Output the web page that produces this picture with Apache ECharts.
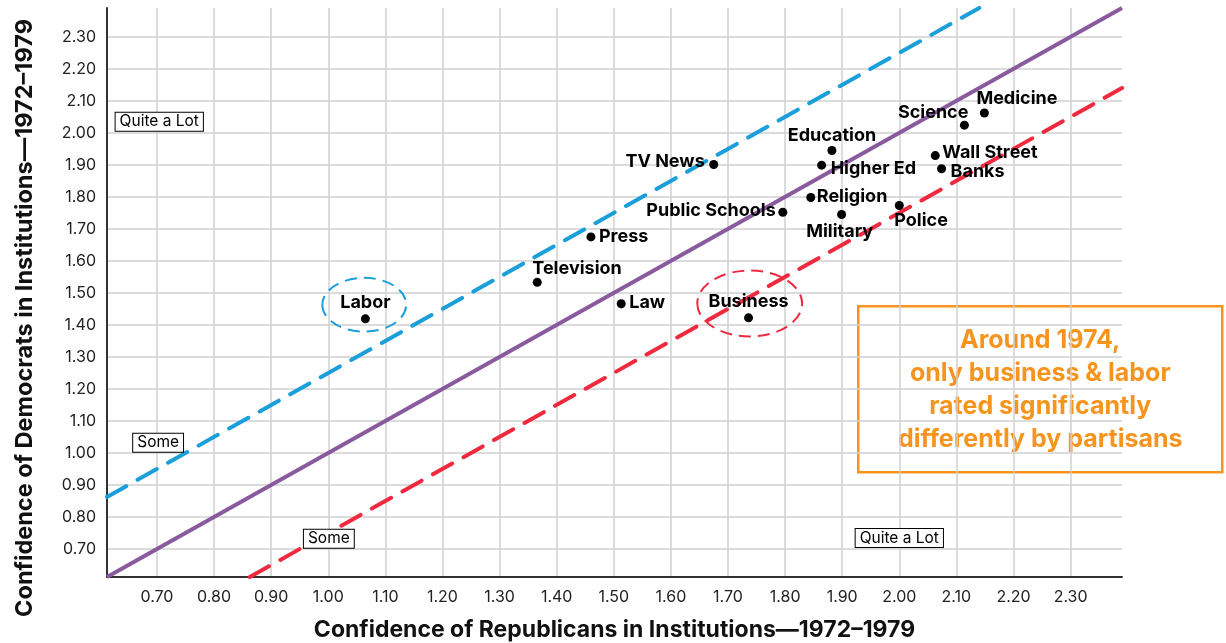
<!DOCTYPE html>
<html><head><meta charset="utf-8">
<script src="https://cdn.jsdelivr.net/npm/echarts@6/dist/echarts.min.js"></script>
<style>html,body{margin:0;padding:0;background:#fff}#c{width:1226px;height:643px}</style>
</head><body><div id="c"></div>
<script>
// ---- data ----
const institutions = ['Labor','Television','Press','Law','TV News','Public Schools','Business','Religion','Military','Education','Higher Ed','Police','Science','Medicine','Wall Street','Banks'];
const republicans = [1.065,1.366,1.460,1.513,1.675,1.796,1.736,1.845,1.899,1.882,1.864,2.000,2.114,2.149,2.063,2.074];
const democrats   = [1.419,1.533,1.675,1.466,1.901,1.752,1.422,1.798,1.745,1.945,1.899,1.773,2.024,2.062,1.929,1.888];
const tickValues = [0.70,0.80,0.90,1.00,1.10,1.20,1.30,1.40,1.50,1.60,1.70,1.80,1.90,2.00,2.10,2.20,2.30];
const equalLine = [[0.6125,0.6125],[2.39,2.39]];
const demHigherLine = [[0.6125,0.8625],[2.14,2.39]];
const repHigherLine = [[0.8625,0.6125],[2.39,2.14]];
const zoneLabels = ['Quite a Lot','Some','Some','Quite a Lot'];
const zoneX = [0.704,0.702,1.001,2.000];
const zoneY = [2.035,1.032,0.732,0.734];
const highlightNames = ['Labor','Business'];
const highlightCx = [1.063,1.738];
const highlightCy = [1.463,1.467];
const highlightRx = [0.0734,0.0918];
const highlightRy = [0.084,0.103];
const xTitle = 'Confidence of Republicans in Institutions\u20141972\u20131979';
const yTitle = 'Confidence of Democrats in Institutions\u20141972\u20131979';
const noteLines = ['Around 1974,','only business & labor','rated significantly','differently by partisans'];

// ---- label placement (style) ----
const labelPlace = {
  'Labor':[0,-16,'center'],'Television':[-5,-14,'left'],'Press':[8,0,'left'],'Law':[8,-1,'left'],
  'TV News':[-9,-3,'right'],'Public Schools':[-7,-2,'right'],'Business':[0,-16,'center'],
  'Religion':[6,-1,'left'],'Military':[-2,17,'center'],'Education':[0,-15,'center'],
  'Higher Ed':[9,3,'left'],'Police':[-5,15,'left'],'Science':[4,-13,'right'],
  'Medicine':[-8,-14,'left'],'Wall Street':[7,-3,'left'],'Banks':[9,3,'left']
};
const SYM = 9;
const pts = institutions.map((n,i)=>{
  const p = labelPlace[n];
  return {name:n, value:[republicans[i],democrats[i]],
    label:{position:[SYM/2+p[0], SYM/2+p[1]], align:p[2], verticalAlign:'middle'}};
});
const FONT = 'Inter';
const chart = echarts.init(document.getElementById('c'));
const axisCommon = {
  type:'value', min:0.6125, max:2.39,
  axisLine:{show:true, onZero:false, lineStyle:{color:'#333', width:2}},
  axisTick:{show:false, customValues:tickValues},
  splitLine:{show:true, lineStyle:{color:'#d0d0d0', width:1.5}},
  axisLabel:{customValues:tickValues, formatter:v=>v.toFixed(2), color:'#222', fontFamily:FONT, fontSize:16},
  nameLocation:'middle',
  nameTextStyle:{fontFamily:FONT, fontWeight:'bold', fontSize:23, color:'#111'}
};
chart.setOption({
  animation:false,
  grid:{left:107, right:104, top:8, bottom:66, containLabel:false, outerBoundsMode:'none'},
  xAxis:Object.assign({}, axisCommon, {name:xTitle, nameGap:42,
    axisLabel:Object.assign({}, axisCommon.axisLabel, {margin:12})}),
  yAxis:Object.assign({}, axisCommon, {
    axisLabel:Object.assign({}, axisCommon.axisLabel, {margin:11})}),
  series:[
    {type:'line', data:equalLine, symbol:'none', lineStyle:{color:'#8a5a9e', width:4}, z:2},
    {type:'line', data:demHigherLine, symbol:'none', lineStyle:{color:'#1a9fdb', width:4, type:[22,13], cap:'round'}, z:2},
    {type:'line', data:repHigherLine, symbol:'none', lineStyle:{color:'#ef2a3f', width:4, type:[22,13], cap:'round'}, z:2},
    {type:'custom', z:3, data:highlightNames.map((n,i)=>[highlightCx[i],highlightCy[i],highlightRx[i],highlightRy[i]]),
      renderItem:(params, api)=>{
        const c = api.coord([api.value(0), api.value(1)]);
        const s = api.size([api.value(2), api.value(3)]);
        const rx=s[0], ry=s[1];
        return {type:'path', shape:{pathData:`M ${c[0]-rx} ${c[1]} A ${rx} ${ry} 0 1 0 ${c[0]+rx} ${c[1]} A ${rx} ${ry} 0 1 0 ${c[0]-rx} ${c[1]} Z`},
          style:{fill:'none', stroke: params.dataIndex===0?'#1a9fdb':'#ef2a3f', lineWidth:2, lineDash:[12,7]}};
      }},
    {type:'scatter', z:5, symbolSize:SYM, itemStyle:{color:'#000', opacity:1}, data:pts,
      label:{show:true, formatter:'{b}', fontFamily:FONT, fontWeight:'bold', fontSize:18, color:'#000'}},
    {type:'scatter', z:4, symbolSize:0, itemStyle:{opacity:1}, data:zoneLabels.map((t,i)=>({name:t, value:[zoneX[i],zoneY[i]]})),
      label:{show:true, position:'inside', formatter:'{b}', fontFamily:FONT, fontSize:15.5, color:'#000', opacity:1,
        backgroundColor:'#fff', borderColor:'#000', borderWidth:1, padding:[1,4,1,4]}}
  ],
  graphic:[
    {type:'text', x:25, y:318, rotation:Math.PI/2,
      style:{text:yTitle, fill:'#111', font:'bold 23.5px Inter', align:'center', verticalAlign:'middle'}},
    {type:'group', left:857, top:305, children:[
      {type:'rect', shape:{x:0,y:0,width:364,height:166}, style:{fill:'#fff', stroke:'#f7941d', lineWidth:2.5}},
      {type:'text', x:182, y:84, style:{text:noteLines.join('\n'), fill:'#f7941d', font:'bold 25px Inter', align:'center', verticalAlign:'middle', lineHeight:33}}
    ]}
  ]
});
</script></body></html>
